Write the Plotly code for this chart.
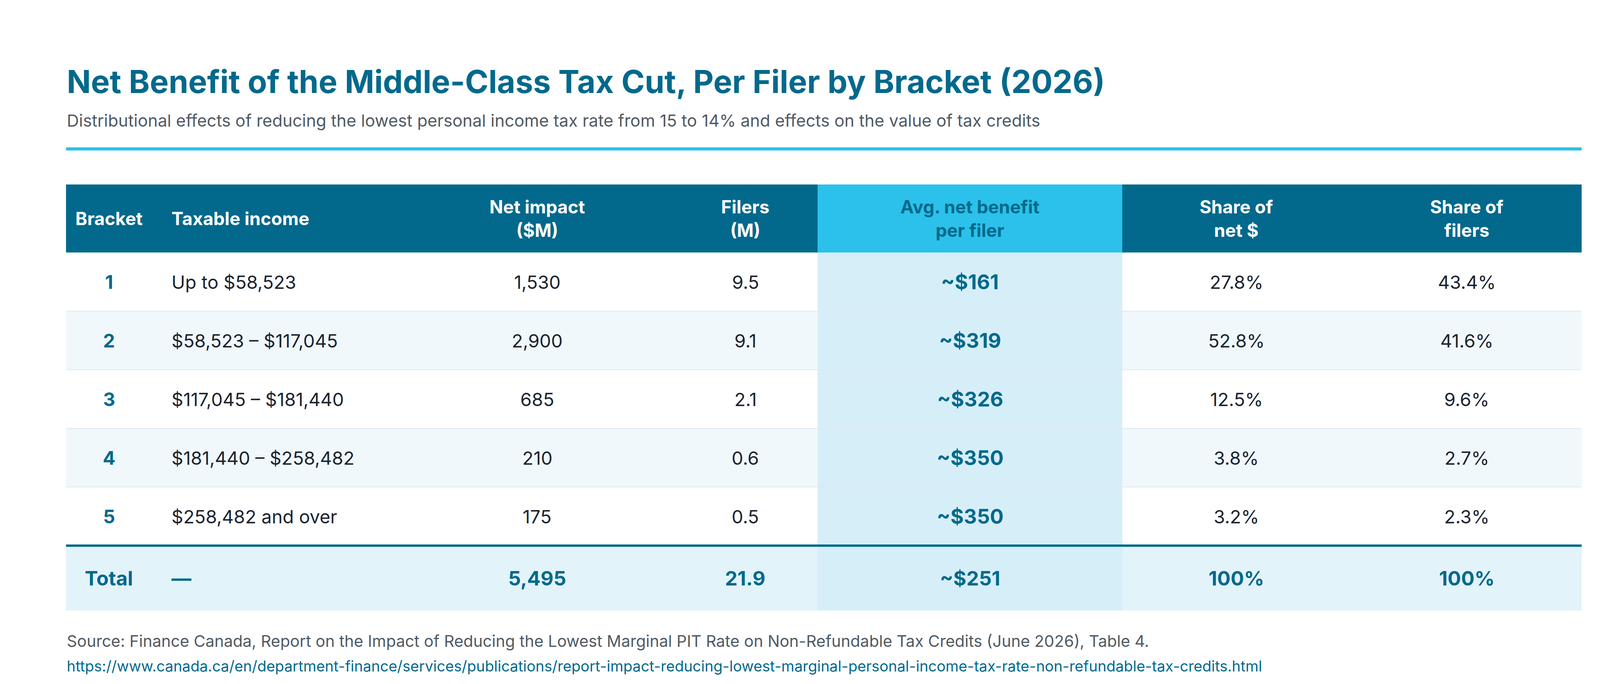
import plotly.graph_objects as go

brackets = ["1", "2", "3", "4", "5"]
incomes = ["Up to $58,523", "$58,523 – $117,045", "$117,045 – $181,440", "$181,440 – $258,482", "$258,482 and over"]
net_impact = ["1,530", "2,900", "685", "210", "175"]
filers = ["9.5", "9.1", "2.1", "0.6", "0.5"]
avg_benefit = ["~$161", "~$319", "~$326", "~$350", "~$350"]
share_net = ["27.8%", "52.8%", "12.5%", "3.8%", "3.2%"]
share_filers = ["43.4%", "41.6%", "9.6%", "2.7%", "2.3%"]
total = ["Total", "—", "5,495", "21.9", "~$251", "100%", "100%"]
headers = ["Bracket", "Taxable income", "Net impact<br>($M)", "Filers<br>(M)", "Avg. net benefit<br>per filer", "Share of<br>net $", "Share of<br>filers"]

W, H = 4200, 1750
DARK = "#02698C"
CYAN = "#2BC1EA"
TXT = "#1B2530"
FONT = "Inter"

L, R = 161, 4041
HT, HB = 464, 638
ROW = 150
TOT_B = 1554
AVG_L, AVG_R = 2085, 2865
col_x = [271, 429, 1367, 1900, 2475, 3157, 3747]
col_anchor = ["center", "left", "center", "center", "center", "center", "center"]

fig = go.Figure()
shapes, ann = [], []

def rect(x0, y0, x1, y1, color):
    shapes.append(dict(type="rect", xref="x", yref="y", x0=x0, x1=x1, y0=y0, y1=y1,
                       fillcolor=color, line=dict(width=0), layer="below"))

rect(L, HT, R, HB, DARK)
rect(AVG_L, HT, AVG_R, HB, CYAN)
n = len(brackets)
for i in range(n):
    y0 = HB + i * ROW
    rect(L, y0, R, y0 + ROW, "#FFFFFF" if i % 2 == 0 else "#F0F8FC")
    if i > 0:
        shapes.append(dict(type="line", xref="x", yref="y", x0=L, x1=R, y0=y0, y1=y0,
                           line=dict(color="#DCEAF0", width=2)))
tot_t = HB + n * ROW
rect(L, tot_t, R, TOT_B, "#E2F3FA")
rect(AVG_L, HB, AVG_R, TOT_B, "#D6EEF8")
shapes.append(dict(type="line", xref="x", yref="y", x0=L, x1=R, y0=tot_t, y1=tot_t,
                   line=dict(color=DARK, width=6)))
shapes.append(dict(type="line", xref="x", yref="y", x0=L, x1=R, y0=373, y1=373,
                   line=dict(color=CYAN, width=8)))

def text(x, y, s, size, color, bold=False, anchor="center"):
    ann.append(dict(x=x, y=y, xref="x", yref="y", text=f"<b>{s}</b>" if bold else s,
                    showarrow=False, xanchor=anchor, yanchor="middle",
                    font=dict(family=FONT, size=size, color=color)))

for j, h in enumerate(headers):
    text(col_x[j], (HT + HB) / 2, h, 46, DARK if j == 4 else "#FFFFFF", True, col_anchor[j])

for i in range(n):
    yc = HB + i * ROW + ROW / 2
    row = [brackets[i], incomes[i], net_impact[i], filers[i], avg_benefit[i], share_net[i], share_filers[i]]
    for j, v in enumerate(row):
        if j == 0:
            text(col_x[j], yc, v, 48, DARK, True, "center")
        elif j == 4:
            text(col_x[j], yc, v, 52, DARK, True, "center")
        else:
            text(col_x[j], yc, v, 47, TXT, False, col_anchor[j])

ytc = (tot_t + TOT_B) / 2
for j, v in enumerate(total):
    text(col_x[j], ytc, v, 51, DARK, True, col_anchor[j])

ann.append(dict(x=L, y=201, xref="x", yref="y", text="<b>Net Benefit of the Middle-Class Tax Cut, Per Filer by Bracket (2026)</b>",
                showarrow=False, xanchor="left", yanchor="middle", font=dict(family=FONT, size=81, color=DARK)))
ann.append(dict(x=L, y=300, xref="x", yref="y",
                text="Distributional effects of reducing the lowest personal income tax rate from 15 to 14% and effects on the value of tax credits",
                showarrow=False, xanchor="left", yanchor="middle", font=dict(family=FONT, size=43, color="#505A64")))
ann.append(dict(x=L, y=1632, xref="x", yref="y",
                text="Source: Finance Canada, Report on the Impact of Reducing the Lowest Marginal PIT Rate on Non-Refundable Tax Credits (June 2026), Table 4.",
                showarrow=False, xanchor="left", yanchor="middle", font=dict(family=FONT, size=41, color="#505A64")))
ann.append(dict(x=L, y=1696, xref="x", yref="y",
                text="https://www.canada.ca/en/department-finance/services/publications/report-impact-reducing-lowest-marginal-personal-income-tax-rate-non-refundable-tax-credits.html",
                showarrow=False, xanchor="left", yanchor="middle", font=dict(family=FONT, size=38, color=DARK)))

fig.update_layout(width=W, height=H, margin=dict(l=0, r=0, t=0, b=0),
                  paper_bgcolor="white", plot_bgcolor="white",
                  xaxis=dict(range=[0, W], visible=False, fixedrange=True),
                  yaxis=dict(range=[H, 0], visible=False, fixedrange=True),
                  shapes=shapes, annotations=ann, showlegend=False)
fig.write_html("out.html", config={"displayModeBar": False})
